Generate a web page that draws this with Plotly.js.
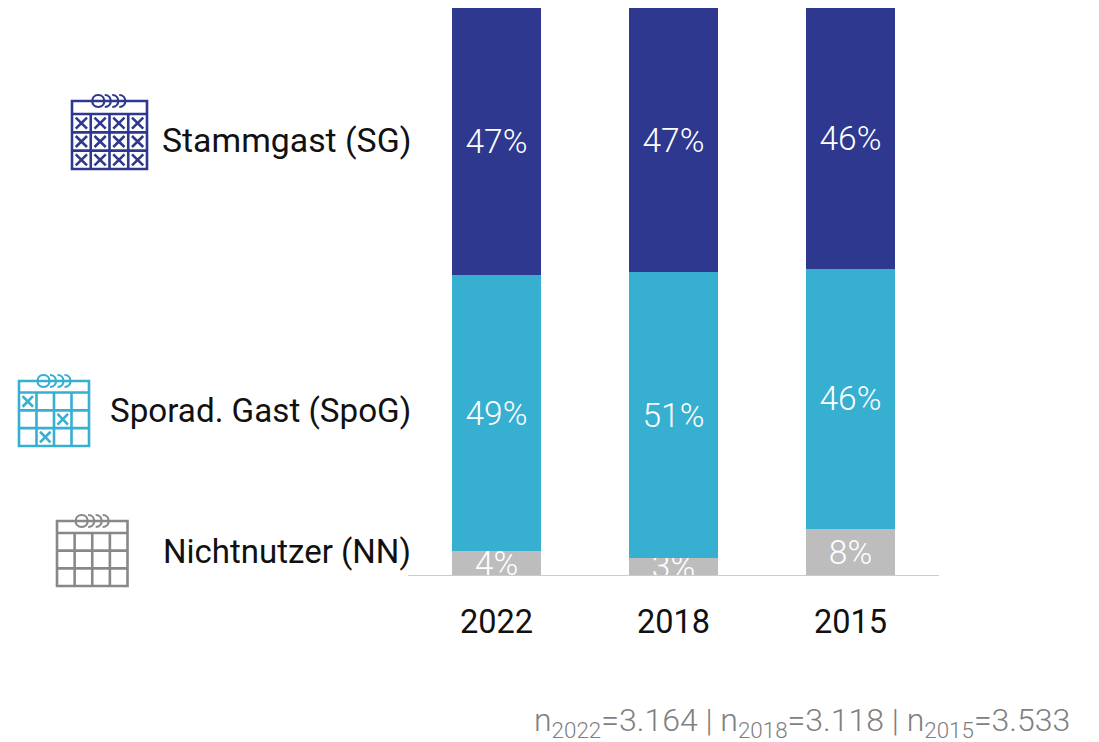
<!DOCTYPE html>
<html><head><meta charset="utf-8">
<script src="https://cdn.plot.ly/plotly-3.0.1.min.js"></script>
<style>html,body{margin:0;padding:0;background:#fff}#c{width:1099px;height:742px}</style>
</head><body><div id="c"></div>
<script>
const years = ['2022','2018','2015'];
const nichtnutzer = [4.2, 3.0, 8.1];
const sporadisch = [48.7, 50.4, 45.9];
const stammgast = [47.1, 46.6, 46.0];
const nichtnutzerText = ['4%','3%','8%'];
const sporadischText = ['49%','51%','46%'];
const stammgastText = ['47%','47%','46%'];
const seriesLabels = ['Nichtnutzer (NN)','Sporad. Gast (SpoG)','Stammgast (SG)'];
const sampleNote = 'n<sub>2022</sub>=3.164 | n<sub>2018</sub>=3.118 | n<sub>2015</sub>=3.533';

const W=1099,H=742,L=408,R=160,T=8,B=167;
const PW=W-L-R,PH=H-T-B;
const px=x=>(x-L)/PW, py=y=>1-(y-T)/PH;
const FONT='Roboto, sans-serif';
const NAVY='#2e388e',CYAN='#36afd0',GREY='#bdbdbd',ICON='#888888';

function seg(d,color,w){return {type:'path',xref:'paper',yref:'paper',path:d,line:{color:color,width:w},layer:'above'};}
function P(x,y){return px(x).toFixed(5)+','+py(y).toFixed(5);}
function icon(x,y,w,h,hh,color,crosses){
  const s=[],lw=2.6,gt=y+hh,cw=w/4,rh=(h-hh)/3;
  s.push(seg('M'+P(x,y)+'L'+P(x+w*0.29,y)+'M'+P(x+w*0.73,y)+'L'+P(x+w,y)+'L'+P(x+w,y+h)+'L'+P(x,y+h)+'L'+P(x,y)+'Z',color,lw));
  for(let i=0;i<3;i++){const yy=gt+i*rh;s.push(seg('M'+P(x,yy)+'L'+P(x+w,yy),color,lw));}
  for(let i=1;i<4;i++){const xx=x+i*cw;s.push(seg('M'+P(xx,gt)+'L'+P(xx,y+h),color,lw));}
  const cx0=x+w*0.35,r=6;
  s.push(seg('M'+P(cx0,y+r)+'C'+P(cx0-8,y+r)+' '+P(cx0-8,y-r)+' '+P(cx0,y-r)+'C'+P(cx0+8,y-r)+' '+P(cx0+8,y+r)+' '+P(cx0,y+r),color,2.2));
  [7.5,15,22].forEach(d=>{const c=cx0+d;
    s.push(seg('M'+P(c-1,y-r)+'C'+P(c+7,y-r)+' '+P(c+7,y+r)+' '+P(c-1,y+r),color,2.2));});
  crosses.forEach(([c,r2])=>{const a=x+c*cw+cw*0.2,b=x+(c+1)*cw-cw*0.2,u=gt+r2*rh+rh*0.2,v=gt+(r2+1)*rh-rh*0.2;
    s.push(seg('M'+P(a,u)+'L'+P(b,v)+'M'+P(a,v)+'L'+P(b,u),color,lw));});
  return s;
}
const allCells=[];for(let r=0;r<3;r++)for(let c=0;c<4;c++)allCells.push([c,r]);
const shapes=[].concat(
  icon(72,101,75,68,13,NAVY,allCells),
  icon(19,381,70,65,11.5,CYAN,[[0,0],[2,1],[1,2]]),
  icon(57,521,70.5,65,12,ICON,[])
);

function bar(name,y,text,color){
  return {type:'bar',name,x:years,y,text,marker:{color,line:{width:0}},
    textposition:'inside',insidetextanchor:'middle',textangle:0,constraintext:'none',cliponaxis:true,
    insidetextfont:{family:FONT,size:33.5,color:'#ffffff',weight:300},hoverinfo:'skip'};
}
const traces=[
  bar(seriesLabels[0],nichtnutzer,nichtnutzerText,GREY),
  bar(seriesLabels[1],sporadisch,sporadischText,CYAN),
  bar(seriesLabels[2],stammgast,stammgastText,NAVY)
];
function leftLabel(t,y,size){return {text:t,xref:'paper',yref:'paper',x:px(413),y:py(y),xanchor:'right',yanchor:'middle',
  showarrow:false,font:{family:FONT,size:size,color:'#111111'}};}
const layout={
  width:W,height:H,paper_bgcolor:'#fff',plot_bgcolor:'#fff',showlegend:false,
  barmode:'stack',bargap:0.502,
  margin:{l:L,r:R,t:T,b:B,pad:0},
  xaxis:{type:'category',range:[-0.5,2.5],showgrid:false,showline:true,linecolor:'#cccccc',linewidth:1,ticks:'',
    ticklabelstandoff:18,tickfont:{family:FONT,size:32.5,color:'#111111'},zeroline:false,fixedrange:true},
  yaxis:{range:[0,100],visible:false,fixedrange:true},
  shapes,
  annotations:[
    leftLabel(seriesLabels[2],140,33.8),leftLabel(seriesLabels[1],410,33.2),leftLabel(seriesLabels[0],551,33),
    {text:sampleNote,xref:'paper',yref:'paper',x:px(1072),y:py(722),xanchor:'right',yanchor:'middle',showarrow:false,
     font:{family:FONT,size:32,color:'#808080',weight:300}}
  ]
};
Plotly.newPlot('c',traces,layout,{displayModeBar:false,staticPlot:true});
</script></body></html>
